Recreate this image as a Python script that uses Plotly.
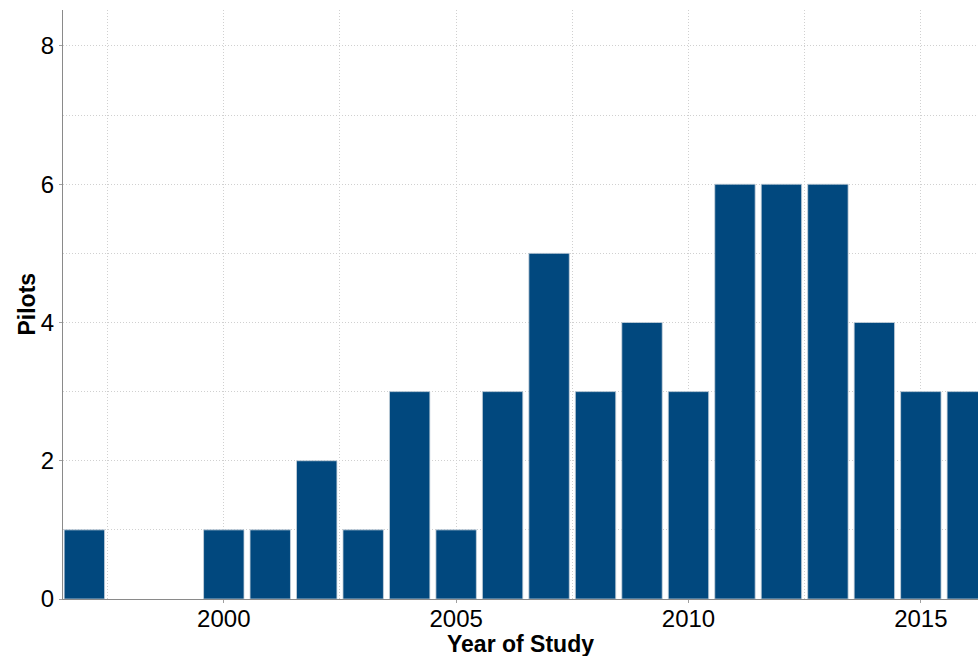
import plotly.graph_objects as go

years = [1997, 1998, 1999, 2000, 2001, 2002, 2003, 2004, 2005, 2006,
         2007, 2008, 2009, 2010, 2011, 2012, 2013, 2014, 2015, 2016]
pilots = [1, 0, 0, 1, 1, 2, 1, 3, 1, 3,
          5, 3, 4, 3, 6, 6, 6, 4, 3, 3]

x_tickvals = [2000, 2005, 2010, 2015]
x_minor = [1997.5, 2002.5, 2007.5, 2012.5]
y_tickvals = [0, 2, 4, 6, 8]
y_minor = [1, 3, 5, 7]

fig = go.Figure(go.Bar(
    x=years, y=pilots,
    marker=dict(color="#01487e",
                line=dict(color="#c9d3dc",
                          width=[0.8 if v > 0 else 0 for v in pilots])),
))

font_family = "Liberation Sans, Arial, sans-serif"
grid = dict(gridcolor="#d0d0d0", griddash="1px,2px", gridwidth=1)

fig.update_layout(
    width=978, height=656,
    margin=dict(l=63, r=0, t=10, b=57),
    plot_bgcolor="white", paper_bgcolor="white",
    bargap=0.13,
    showlegend=False,
    font=dict(family=font_family, size=24, color="black"),
    annotations=[
        dict(text="<b>Year of Study</b>", xref="paper", yref="paper",
             x=0.5, y=0, yshift=-45, xanchor="center", yanchor="middle",
             showarrow=False, font=dict(size=23, color="black")),
        dict(text="<b>Pilots</b>", xref="paper", yref="paper",
             x=0, y=0.5, xshift=-37, xanchor="center", yanchor="middle",
             textangle=-90, showarrow=False, font=dict(size=23, color="black")),
    ],
)

fig.update_xaxes(
    range=[1996.54, 2016.23],
    tickvals=x_tickvals,
    showline=True, linecolor="#8a8a8a", linewidth=1.3,
    ticks="outside", ticklen=3, tickcolor="#a0a0a0",
    ticklabelstandoff=-5,
    showgrid=True, **grid,
    minor=dict(tickvals=x_minor, showgrid=True, **grid),
    zeroline=False, automargin=False,
    tickfont=dict(size=24),
)

fig.update_yaxes(
    range=[0, 8.52],
    tickvals=y_tickvals,
    showline=True, linecolor="#8a8a8a", linewidth=1.3,
    ticks="outside", ticklen=3, tickcolor="#a0a0a0",
    showgrid=True, **grid,
    minor=dict(tickvals=y_minor, showgrid=True, **grid),
    zeroline=False, automargin=False,
    tickfont=dict(size=24),
)

post = ("document.body.style.margin='0';"
        "document.body.style.overflow='hidden';"
        "document.documentElement.style.overflow='hidden';")

fig.write_html("out.html", post_script=post, config={"displayModeBar": False})
